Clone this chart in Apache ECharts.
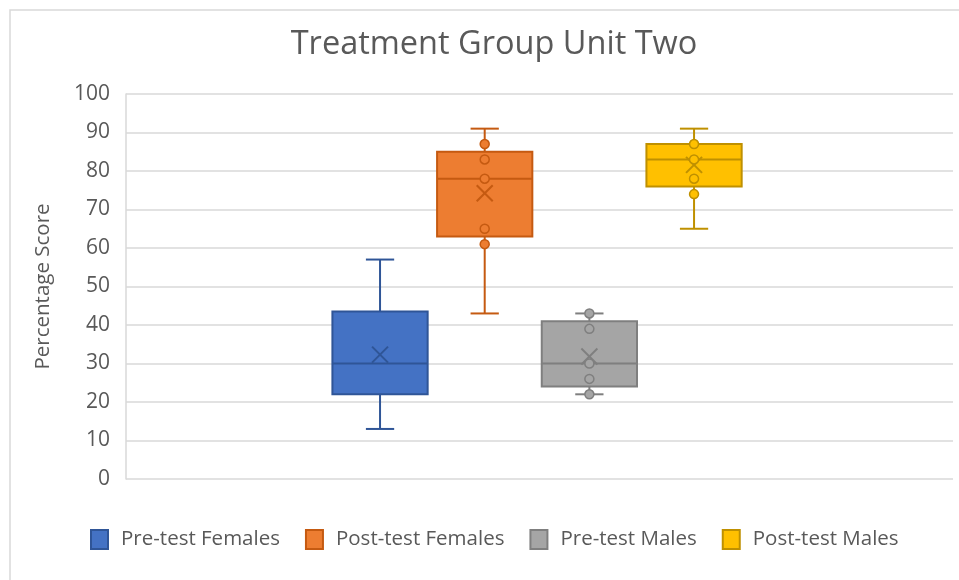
<!DOCTYPE html>
<html>
<head>
<meta charset="utf-8">
<title>Treatment Group Unit Two</title>
<script src="https://cdn.jsdelivr.net/npm/echarts@6/dist/echarts.min.js"></script>
<style>
  html, body { margin: 0; padding: 0; background: #fff; }
  #chart { width: 959px; height: 580px; }
</style>
</head>
<body>
<div id="chart"></div>
<script>
// groups (one box each)
var groups = ["Pre-test Females", "Post-test Females", "Pre-test Males", "Post-test Males"];
// box stats
var whiskerMin = [13, 43, 22, 65];
var q1 = [22, 63, 24, 76];
var median = [30, 78, 30, 83];
var q3 = [43.5, 85, 41, 87];
var whiskerMax = [57, 91, 43, 91];
var mean = [32.3, 74.2, 31.8, 81.6];
// inner points shown as circles
var points = [
  [],
  [87, 83, 78, 65, 61],
  [43, 39, 30, 26, 22],
  [87, 83, 78, 74]
];
var yTicks = { min: 0, max: 100, interval: 10 };

var fills = ["#4472C4", "#ED7D31", "#A5A5A5", "#FFC000"];
var strokes = ["#2F5597", "#C55A11", "#7F7F7F", "#BF9000"];
var FONT = "Open Sans";

// box drawn through the axes with api.coord
function makeRender(k) {
  return function (params, api) {
    var x = api.value(0);
    var lo = api.coord([x, api.value(1)]);
    var b1 = api.coord([x, api.value(2)]);
    var md = api.coord([x, api.value(3)]);
    var b3 = api.coord([x, api.value(4)]);
    var hi = api.coord([x, api.value(5)]);
    var mn = api.coord([x, api.value(6)]);
    var half = api.size([0.91, 0])[0] / 2;
    var cap = api.size([0.27, 0])[0] / 2;
    var cx = lo[0];
    var lineStyle = { stroke: strokes[k], lineWidth: 2, fill: null };
    return {
      type: "group",
      children: [
        { type: "line", shape: { x1: cx, y1: b3[1], x2: cx, y2: hi[1] }, style: lineStyle },
        { type: "line", shape: { x1: cx, y1: b1[1], x2: cx, y2: lo[1] }, style: lineStyle },
        { type: "line", shape: { x1: cx - cap, y1: hi[1], x2: cx + cap, y2: hi[1] }, style: lineStyle },
        { type: "line", shape: { x1: cx - cap, y1: lo[1], x2: cx + cap, y2: lo[1] }, style: lineStyle },
        {
          type: "rect",
          shape: { x: cx - half, y: b3[1], width: half * 2, height: b1[1] - b3[1] },
          style: { fill: fills[k], stroke: strokes[k], lineWidth: 2 }
        },
        { type: "line", shape: { x1: cx - half, y1: md[1], x2: cx + half, y2: md[1] }, style: lineStyle },
        {
          type: "polyline",
          shape: { points: [[cx - 8, mn[1] - 8], [cx + 8, mn[1] + 8]] },
          style: lineStyle
        },
        {
          type: "polyline",
          shape: { points: [[cx - 8, mn[1] + 8], [cx + 8, mn[1] - 8]] },
          style: lineStyle
        }
      ]
    };
  };
}

var series = [];
groups.forEach(function (name, k) {
  series.push({
    name: name,
    type: "custom",
    renderItem: makeRender(k),
    itemStyle: { color: fills[k], borderColor: strokes[k], borderWidth: 1.5 },
    encode: { x: 0, y: [1, 2, 3, 4, 5, 6] },
    data: [[k, whiskerMin[k], q1[k], median[k], q3[k], whiskerMax[k], mean[k]]],
    z: 2
  });
  series.push({
    name: name,
    type: "scatter",
    symbol: "circle",
    symbolSize: 9,
    itemStyle: { color: fills[k], borderColor: strokes[k], borderWidth: 1.5, opacity: 1 },
    data: points[k].map(function (v) { return [k, v]; }),
    z: 3
  });
});

var chart = echarts.init(document.getElementById("chart"));
chart.setOption({
  animation: false,
  backgroundColor: "#fff",
  title: {
    text: "Treatment Group Unit Two",
    left: 489,
    textAlign: "center",
    top: 23,
    textStyle: { fontFamily: FONT, fontSize: 32.5, fontWeight: "normal", color: "#595959" }
  },
  legend: {
    data: groups,
    bottom: 25,
    left: 85,
    icon: "rect",
    itemWidth: 17,
    itemHeight: 19,
    itemGap: 25,
    textStyle: { fontFamily: FONT, fontSize: 20.5, color: "#595959", padding: [0, 0, 0, 8] }
  },
  grid: { left: 126, right: 6, top: 94, bottom: 101 },
  xAxis: {
    type: "value",
    min: -2.427,
    max: 5.474,
    show: false
  },
  yAxis: {
    type: "value",
    min: yTicks.min,
    max: yTicks.max,
    interval: yTicks.interval,
    name: "Percentage Score",
    nameLocation: "middle",
    nameGap: 72,
    nameTextStyle: { fontFamily: FONT, fontSize: 20.5, color: "#595959" },
    axisLine: { show: true, onZero: false, lineStyle: { color: "#d9d9d9", width: 1.5 } },
    axisTick: { show: false },
    axisLabel: { margin: 16, fontFamily: FONT, fontSize: 21, color: "#595959" },
    splitLine: { lineStyle: { color: "#d9d9d9", width: 1.5 } }
  },
  graphic: [{
    type: "rect",
    shape: { x: 10, y: 10, width: 1000, height: 1000 },
    style: { fill: null, stroke: "#d9d9d9", lineWidth: 1.5 },
    silent: true
  }],
  series: series
});
</script>
</body>
</html>
